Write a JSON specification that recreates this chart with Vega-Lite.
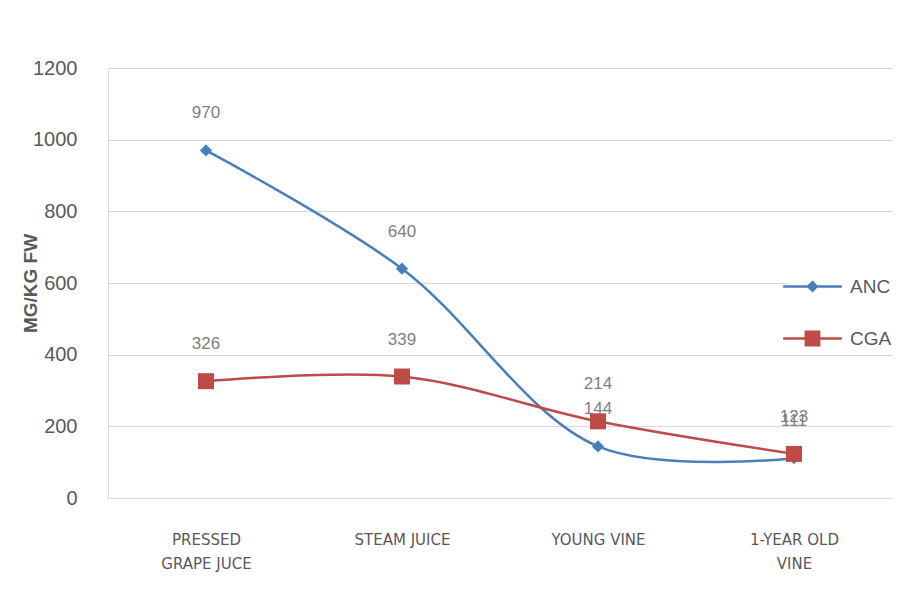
{
  "$schema": "https://vega.github.io/schema/vega-lite/v6.json",
  "width": 784,
  "height": 430,
  "autosize": {"type": "none"},
  "padding": {"left": 108, "top": 68, "right": 20, "bottom": 108},
  "background": "white",
  "config": {
    "view": {"stroke": null},
    "font": "Liberation Sans"
  },
  "data": {
    "values": [
      {"cat": "PRESSED GRAPE JUCE", "series": "ANC", "value": 970},
      {"cat": "STEAM JUICE", "series": "ANC", "value": 640},
      {"cat": "YOUNG VINE", "series": "ANC", "value": 144},
      {"cat": "1-YEAR OLD VINE", "series": "ANC", "value": 111},
      {"cat": "PRESSED GRAPE JUCE", "series": "CGA", "value": 326},
      {"cat": "STEAM JUICE", "series": "CGA", "value": 339},
      {"cat": "YOUNG VINE", "series": "CGA", "value": 214},
      {"cat": "1-YEAR OLD VINE", "series": "CGA", "value": 123}
    ]
  },
  "encoding": {
    "x": {
      "field": "cat",
      "type": "nominal",
      "sort": null,
      "scale": {"type": "point", "padding": 0.5},
      "axis": {
        "title": null,
        "labelAngle": 0,
        "ticks": false,
        "grid": false,
        "domainColor": "#d9d9d9",
        "domainWidth": 1,
        "labelPadding": 34,
        "labelFont": "DejaVu Sans",
        "labelFontSize": 15,
        "labelColor": "#595959",
        "labelLineHeight": 24,
        "labelExpr": "datum.label == 'PRESSED GRAPE JUCE' ? ['PRESSED', 'GRAPE JUCE'] : datum.label == '1-YEAR OLD VINE' ? ['1-YEAR OLD', 'VINE'] : datum.label"
      }
    },
    "y": {
      "field": "value",
      "type": "quantitative",
      "scale": {"domain": [0, 1200], "nice": false},
      "axis": {
        "title": "MG/KG FW",
        "values": [0, 200, 400, 600, 800, 1000, 1200],
        "format": "d",
        "ticks": false,
        "grid": true,
        "gridColor": "#d9d9d9",
        "domainColor": "#d9d9d9",
        "labelFontSize": 20,
        "labelColor": "#595959",
        "labelPadding": 31,
        "titleFontSize": 19,
        "titleFontWeight": "bold",
        "titleColor": "#595959",
        "titleX": -78,
        "titleY": 215,
        "titleAngle": -90,
        "titleAlign": "center",
        "titleBaseline": "middle"
      }
    },
    "color": {
      "field": "series",
      "type": "nominal",
      "scale": {"domain": ["ANC", "CGA"], "range": ["#4a7ebb", "#be4b48"]},
      "legend": {
        "title": null,
        "orient": "none",
        "legendX": 679,
        "legendY": 193,
        "padding": 0,
        "fillColor": "white",
        "symbolSize": 2601,
        "symbolType": "M-1.15,-0.05H1.15V0.05H-1.15Z",
        "rowPadding": 16,
        "labelOffset": 12,
        "labelFontSize": 19,
        "labelColor": "#595959",
        "symbolStrokeWidth": 0,
        "encode": {
          "symbols": {
            "update": {
              "shape": {"signal": "datum.value === 'ANC' ? 'M-1.15,-0.05H1.15V0.05H-1.15Z M0,-0.24L0.24,0L0,0.24L-0.24,0Z' : 'M-1.15,-0.05H1.15V0.05H-1.15Z M-0.31,-0.31H0.31V0.31H-0.31Z'"},
              "fill": {"signal": "datum.value === 'ANC' ? '#4a7ebb' : '#be4b48'"},
              "fillOpacity": {"value": 1},
              "strokeWidth": {"value": 0}
            }
          }
        }
      }
    }
  },
  "layer": [
    {
      "mark": {"type": "line", "interpolate": "catmull-rom", "strokeWidth": 2.5}
    },
    {
      "transform": [{"filter": "datum.series === 'ANC'"}],
      "mark": {"type": "point", "filled": true, "opacity": 1, "shape": "diamond", "size": 150}
    },
    {
      "transform": [{"filter": "datum.series === 'CGA'"}],
      "mark": {"type": "point", "filled": true, "opacity": 1, "shape": "square", "size": 256}
    },
    {
      "mark": {"type": "text", "dy": -37, "fontSize": 17, "color": "#7f7f7f"},
      "encoding": {
        "text": {"field": "value", "type": "quantitative"},
        "color": {"value": "#7f7f7f"}
      }
    }
  ]
}
